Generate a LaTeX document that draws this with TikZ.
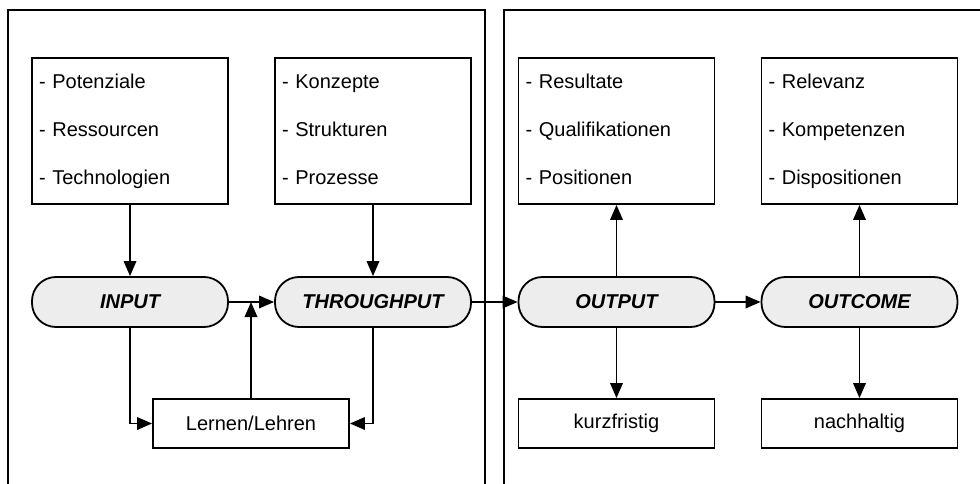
\documentclass[tikz,border=0pt]{standalone}
\usepackage{fontspec}
\setmainfont{Liberation Sans}
\usetikzlibrary{arrows.meta,positioning}
% fixed line strut for the lists
\newcommand{\lst}{\rule[-3pt]{0pt}{17pt}}

\begin{document}
\begin{tikzpicture}[x=1pt, y=-1pt, line width=1.8pt,
  listbox/.style = {draw, minimum width=196pt, minimum height=146pt, align=left,
                    text width=182pt, inner xsep=6pt, font=\fontsize{20}{48}\selectfont},
  stage/.style = {draw, fill=black!7, rounded corners=24pt, minimum width=196pt,
                  minimum height=50pt, font=\fontsize{20}{24}\selectfont\bfseries\itshape},
  plainbox/.style = {draw, minimum width=196pt, minimum height=49pt,
                     font=\fontsize{20}{24}\selectfont},
  > = {Triangle[length=15pt, width=12.5pt]}]

\useasboundingbox (0,0) rectangle (980,484);

% panels
\draw (8,484) -- (8,10) -- (485,10) -- (485,484);
\draw (504,484) -- (504,10) -- (980,10);

% lists
\node [listbox] (inlist) at (130,131) {\lst- Potenziale\\\lst- Ressourcen\\\lst- Technologien};
\node [listbox] (thrlist) at (373,131) {\lst- Konzepte\\\lst- Strukturen\\\lst- Prozesse};
\node [listbox] (outlist) at (616.5,131) {\lst- Resultate\\\lst- Qualifikationen\\\lst- Positionen};
\node [listbox] (ocmlist) at (859.5,131) {\lst- Relevanz\\\lst- Kompetenzen\\\lst- Dispositionen};

% stages
\node [stage] (input) at (130,302) {INPUT};
\node [stage] (through) at (373,302) {THROUGHPUT};
\node [stage] (output) at (616.5,302) {OUTPUT};
\node [stage] (outcome) at (859.5,302) {OUTCOME};

% bottom boxes
\node [plainbox] (lernen) at (251,423.5) {Lernen/Lehren};
\node [plainbox] (kurz) at (616.5,423.5) {kurzfristig};
\node [plainbox] (nach) at (859.5,423.5) {nachhaltig};

% lists to stages
\draw [->] (inlist) -- (input);
\draw [->] (thrlist) -- (through);
\draw [->] (output) -- (outlist);
\draw [->] (outcome) -- (ocmlist);

% stage chain
\draw [->] (input) -- (through);
\draw [->] (through) -- (output);
\draw [->] (output) -- (outcome);

% down to bottom boxes
\draw [->] (output) -- (kurz);
\draw [->] (outcome) -- (nach);

% learning loop
\draw [->] (input.south) |- (lernen.west);
\draw [->] (through.south) |- (lernen.east);
\draw [->] (lernen.north) -- (lernen.north |- input.east);
\end{tikzpicture}
\end{document}
